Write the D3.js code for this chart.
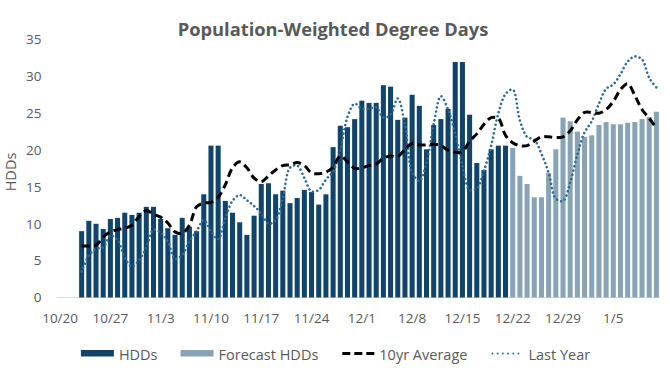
<!DOCTYPE html>
<html><head><meta charset="utf-8">
<script src="https://cdn.jsdelivr.net/npm/d3@7"></script>
<style>
html,body{margin:0;padding:0;background:#fff;}
svg text{font-family:"Open Sans","Noto Sans",sans-serif;}
</style></head>
<body><svg id="c" width="670" height="370"></svg>
<script>
const categories = [
"10/20","10/21","10/22","10/23","10/24","10/25","10/26","10/27","10/28","10/29","10/30","10/31",
"11/1","11/2","11/3","11/4","11/5","11/6","11/7","11/8","11/9","11/10","11/11","11/12","11/13","11/14","11/15",
"11/16","11/17","11/18","11/19","11/20","11/21","11/22","11/23","11/24","11/25","11/26","11/27","11/28","11/29","11/30",
"12/1","12/2","12/3","12/4","12/5","12/6","12/7","12/8","12/9","12/10","12/11","12/12","12/13","12/14","12/15",
"12/16","12/17","12/18","12/19","12/20","12/21","12/22","12/23","12/24","12/25","12/26","12/27","12/28","12/29","12/30","12/31",
"1/1","1/2","1/3","1/4","1/5","1/6","1/7","1/8","1/9","1/10","1/11"];
const tickLabels = ["10/20","10/27","11/3","11/10","11/17","11/24","12/1","12/8","12/15","12/22","12/29","1/5"];
const yTicks = [0,5,10,15,20,25,30,35];
const firstDataDay = "10/23";
const firstForecastDay = "12/22";
// observed HDDs 10/23 - 12/21
const hdd = [9.0,10.4,10.0,9.3,10.65,10.8,11.5,11.2,11.5,12.3,12.3,10.65,9.4,8.5,10.8,9.6,9.0,14.0,20.6,20.6,
13.1,11.5,10.2,8.5,11.1,15.4,15.5,14.0,14.5,12.8,13.5,14.6,14.3,12.6,14.0,20.4,23.3,23.1,24.2,26.7,
26.4,26.4,28.8,28.6,24.1,24.4,27.5,26.0,20.1,23.4,24.2,25.6,31.95,31.95,24.8,18.25,17.3,20.1,20.6,20.6];
// forecast HDDs 12/22 - 1/11
const forecastHdd = [20.3,16.5,15.4,13.6,13.6,16.9,20.1,24.4,23.9,22.5,21.8,22.0,23.4,23.8,23.5,23.5,23.7,23.8,24.2,24.5,25.2];
// 10yr average 10/23 - 1/11
const tenYearAvg = [7.0,7.0,7.1,8.2,8.9,9.2,9.4,9.8,11.0,11.8,11.3,10.9,10.1,8.9,8.7,9.8,12.3,12.8,12.9,13.6,
15.3,17.6,18.4,17.6,16.2,15.7,16.5,17.3,17.9,18.0,18.3,17.9,16.9,16.8,17.0,17.7,19.2,18.4,17.5,17.6,
17.9,18.1,18.9,19.2,19.1,20.1,20.9,20.7,20.7,20.8,20.6,20.0,19.7,19.8,21.2,22.2,23.5,24.4,24.3,22.0,
21.0,20.6,20.6,21.2,21.8,21.8,21.7,21.8,22.6,24.1,25.1,25.1,25.0,25.5,26.6,28.2,29.0,27.4,25.5,24.3,23.0];
// last year 10/23 - 1/11
const lastYear = [3.5,5.7,6.6,6.8,8.4,7.8,5.4,4.2,5.1,6.8,9.2,8.8,7.6,5.2,5.8,7.6,9.0,10.5,9.0,7.9,
10.8,13.1,13.9,13.2,12.4,11.4,10.0,10.5,13.5,17.6,17.9,16.2,14.4,14.6,16.0,17.1,20.0,24.5,26.3,25.6,
25.6,25.8,24.4,24.8,27.0,23.5,17.0,15.8,18.3,23.5,27.3,25.5,22.2,17.9,14.6,14.8,17.2,20.6,25.0,27.6,
28.2,24.0,21.8,21.4,19.5,16.9,13.4,13.1,15.6,19.4,22.4,23.9,26.3,28.3,28.9,30.3,32.0,32.7,32.3,29.8,28.5];

const colDark = "#10446a", colFc = "#87a3b5", colLY = "#2f6a93", colText = "#595959";

const svg = d3.select("#c");
const x = d3.scaleBand().domain(categories).range([56.5, 660]).paddingInner(0.3).paddingOuter(0.15);
const y = d3.scaleLinear().domain([0, 35]).range([297.5, 39.5]);

const off = categories.indexOf(firstDataDay);
const fOff = categories.indexOf(firstForecastDay);
const obs = hdd.map((v, i) => ({d: categories[off + i], v}));
const fc = forecastHdd.map((v, i) => ({d: categories[fOff + i], v}));
const tyr = tenYearAvg.map((v, i) => ({d: categories[off + i], v}));
const ly = lastYear.map((v, i) => ({d: categories[off + i], v}));

// title
svg.append("text").attr("x", 333).attr("y", 36).attr("text-anchor", "middle")
  .attr("font-size", 18.3).attr("font-weight", "bold").attr("fill", colText)
  .text("Population-Weighted Degree Days");

// y axis
const yAxis = d3.axisLeft(y).tickValues(yTicks).tickSize(0).tickPadding(0);
const gy = svg.append("g").attr("transform", "translate(41.5,0)").call(yAxis);
gy.select(".domain").remove();
gy.selectAll("text").attr("font-size", 13.5).attr("fill", colText).attr("font-family", null);

svg.append("text").attr("transform", "translate(16,172) rotate(-90)").attr("text-anchor", "middle")
  .attr("font-size", 14.5).attr("fill", colText).text("HDDs");

// baseline
svg.append("line").attr("x1", 56.5).attr("x2", 660).attr("y1", y(0)).attr("y2", y(0))
  .attr("stroke", "#d9d9d9").attr("stroke-width", 1);

// x axis
const xAxis = d3.axisBottom(x).tickValues(tickLabels).tickSize(0).tickPadding(0);
const gx = svg.append("g").attr("transform", "translate(0,313)").call(xAxis);
gx.select(".domain").remove();
gx.selectAll("text").attr("font-size", 13.5).attr("fill", colText).attr("font-family", null);

// bars
svg.append("g").selectAll("rect").data(obs).join("rect")
  .attr("x", d => x(d.d)).attr("width", x.bandwidth())
  .attr("y", d => y(d.v)).attr("height", d => y(0) - y(d.v)).attr("fill", colDark);
svg.append("g").selectAll("rect").data(fc).join("rect")
  .attr("x", d => x(d.d)).attr("width", x.bandwidth())
  .attr("y", d => y(d.v)).attr("height", d => y(0) - y(d.v)).attr("fill", colFc);

const line = d3.line().x(d => x(d.d) + x.bandwidth() / 2).y(d => y(d.v)).curve(d3.curveCatmullRom.alpha(0.5));

svg.append("path").datum(ly).attr("d", line).attr("fill", "none")
  .attr("stroke", colLY).attr("stroke-width", 2.6).attr("stroke-linecap", "round")
  .attr("stroke-dasharray", "0.01,4.3");
svg.append("path").datum(tyr).attr("d", line).attr("fill", "none")
  .attr("stroke", "#000").attr("stroke-width", 3).attr("stroke-dasharray", "8,4.5");

// legend
const legendItems = [
  {label: "HDDs", type: "rect", color: colDark},
  {label: "Forecast HDDs", type: "rect", color: colFc},
  {label: "10yr Average", type: "dash", color: "#000"},
  {label: "Last Year", type: "dot", color: colLY}
];
const lg = svg.append("g");
let lx = 0;
legendItems.forEach(it => {
  const g = lg.append("g").attr("transform", `translate(${lx},0)`);
  if (it.type === "rect") {
    g.append("rect").attr("x", 0).attr("y", -4).attr("width", 33).attr("height", 6.5).attr("fill", it.color);
  } else if (it.type === "dash") {
    g.append("line").attr("x1", 1).attr("x2", 33).attr("y1", -0.5).attr("y2", -0.5)
      .attr("stroke", it.color).attr("stroke-width", 3).attr("stroke-dasharray", "8,4");
  } else {
    g.append("line").attr("x1", 2).attr("x2", 33).attr("y1", -0.5).attr("y2", -0.5)
      .attr("stroke", it.color).attr("stroke-width", 2).attr("stroke-linecap", "round").attr("stroke-dasharray", "0.01,5.2");
  }
  const t = g.append("text").attr("x", 38).attr("y", 5.5).attr("font-size", 14.5).attr("fill", colText).text(it.label);
  lx += 38 + t.node().getComputedTextLength() + 23;
});
const lw = lx - 23;
lg.attr("transform", `translate(${335.5 - lw / 2},354)`);
</script></body></html>
